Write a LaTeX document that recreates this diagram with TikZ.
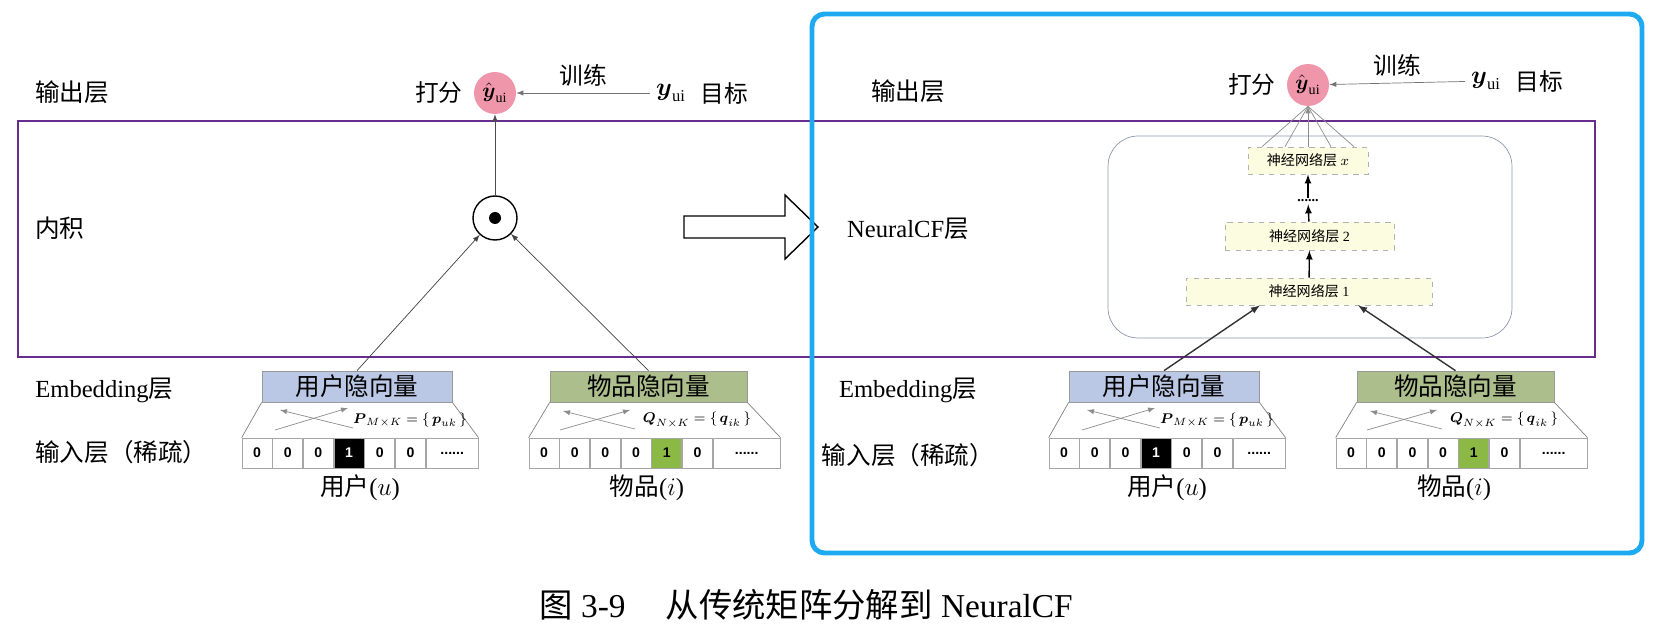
\documentclass[tikz,border=0pt]{standalone}
\usepackage{amsmath}
\usepackage{fontspec}
\setmainfont{Liberation Serif}
\setsansfont{Liberation Sans}
\newfontfamily\cjk{Noto Sans CJK SC}
\usetikzlibrary{positioning}

\definecolor{framepurple}{RGB}{102,45,140}
\definecolor{panelblue}{RGB}{30,170,240}
\definecolor{userblue}{RGB}{186,200,230}
\definecolor{itemgreen}{RGB}{172,190,140}
\definecolor{hotgreen}{RGB}{140,185,70}
\definecolor{scorepink}{RGB}{240,150,170}
\definecolor{layeryellow}{RGB}{252,252,225}
\definecolor{ncfgray}{RGB}{140,150,170}

\begin{document}
\begin{tikzpicture}[x=0.02cm, y=-0.02cm, node distance=0cm]
    \tikzset{
        bit/.style={
            rectangle,
            draw=black!35,
            inner sep=0pt,
            minimum width=0.6cm,
            minimum height=0.6cm,
            text centered,
            font=\fontsize{8}{9}\selectfont\sffamily\bfseries
        },
        vecbox/.style={
            rectangle,
            draw=black!40,
            inner sep=0pt,
            minimum height=0.62cm,
            font=\fontsize{14}{16}\selectfont\cjk
        },
        layer/.style={
            rectangle,
            draw=black!30,
            dashed,
            fill=layeryellow,
            inner sep=0pt,
            minimum height=0.54cm,
            font=\fontsize{8}{9}\selectfont
        },
        rowlabel/.style={font=\fontsize{14}{16}\selectfont, inner sep=0pt},
        small/.style={font=\fontsize{13.5}{15}\selectfont},
        score/.style={circle, fill=scorepink, inner sep=0pt, minimum size=0.84cm,
            font=\fontsize{12}{13}\selectfont}
    }

    \useasboundingbox (0,0) rectangle (1666,638);

    % layer labels
    \node[rowlabel, anchor=west] (outL) at (35,92) {{\cjk 输出层}};
    \node[rowlabel, anchor=west] (dotprodL) at (35,228) {{\cjk 内积}};
    \node[rowlabel, anchor=west] (embL) at (35,390) {Embedding{\cjk 层}};
    \node[rowlabel, anchor=west] (inL) at (35,452) {{\cjk 输入层（稀疏）}};

    \node[rowlabel] (outR) at (908,91) {{\cjk 输出层}};
    \node[rowlabel] (ncfR) at (908,229) {NeuralCF{\cjk 层}};
    \node[rowlabel] (embR) at (908,390) {Embedding{\cjk 层}};
    \node[rowlabel] (inR) at (908,455) {{\cjk 输入层（稀疏）}};

    \draw[framepurple, line width=1.6pt] (18,121) rectangle (1595,357);

    % left: matrix factorisation
    \node[score] (yhatL) at (495,93) {$\hat{\boldsymbol{y}}_{\mathrm{ui}}$};
    \node[small, left=0.1cm of yhatL] (scoreL) {{\cjk 打分}};
    \node[small] (yL) at (671,93) {$\boldsymbol{y}_{\mathrm{ui}}$};
    \node[small, right=0.05cm of yL] (goalL) {{\cjk 目标}};
    \draw[-latex, black!55] (yL) -- (yhatL) node[midway, above, black, small] (trainL) {{\cjk 训练}};

    \node[circle, draw=black, thick, minimum size=0.88cm, inner sep=0pt] (dotL) at (495,218) {};
    \fill (dotL) circle (6);
    \draw[-latex, black!70] (dotL) -- (yhatL);

    \node[vecbox, fill=userblue, minimum width=3.8cm] (userL) at (357,386.5) {用户隐向量};
    \node[vecbox, fill=itemgreen, minimum width=3.94cm] (itemL) at (648.5,386.5) {物品隐向量};
    \draw[-latex, black!75] (userL.north) -- (dotL);
    \draw[-latex, black!75] (itemL.north) -- (dotL);

    \node[bit] (lu1) at (257,453) {0};
    \node[bit, right=of lu1] (lu2) {0};
    \node[bit, right=of lu2] (lu3) {0};
    \node[bit, fill=black, text=white, right=of lu3] (lu4) {1};
    \node[bit, right=of lu4] (lu5) {0};
    \node[bit, right=of lu5] (lu6) {0};
    \node[bit, minimum width=1.04cm, right=of lu6] (ludots) {......};

    \node[bit] (li1) at (544,453) {0};
    \node[bit, right=of li1] (li2) {0};
    \node[bit, right=of li2] (li3) {0};
    \node[bit, right=of li3] (li4) {0};
    \node[bit, fill=hotgreen, right=of li4] (li5) {1};
    \node[bit, right=of li5] (li6) {0};
    \node[bit, minimum width=1.34cm, right=of li6] (lidots) {......};

    \draw[black!50] (userL.south west) -- (lu1.north west);
    \draw[black!50] (userL.south east) -- (ludots.north east);
    \draw[black!50] (itemL.south west) -- (li1.north west);
    \draw[black!50] (itemL.south east) -- (lidots.north east);

    \draw[-latex, black!45] (275,430) -- (348,408);
    \draw[-latex, black!45] (353,428) -- (280,410);
    \draw[-latex, black!45] (560,430) -- (630,410);
    \draw[-latex, black!45] (635,429) -- (563,411);

    \node[font=\fontsize{8}{9}\selectfont] (pL) at (410,420) {$\boldsymbol{P}_{M\times K}=\{\,\boldsymbol{p}_{uk}\,\}$};
    \node[font=\fontsize{8}{9}\selectfont] (qL) at (697,420) {$\boldsymbol{Q}_{N\times K}=\{\,\boldsymbol{q}_{ik}\,\}$};
    \node[rowlabel] (unameL) at (360,488) {{\cjk 用户}($u$)};
    \node[rowlabel] (inameL) at (647,488) {{\cjk 物品}($i$)};

    % hollow arrow between the two models
    \draw[thick] (684,216) -- (785,216) -- (785,195) -- (818,227) -- (785,259)
        -- (785,238) -- (684,238) -- cycle;

    % right: NeuralCF
    \node[score] (yhatR) at (1308,85) {$\hat{\boldsymbol{y}}_{\mathrm{ui}}$};
    \node[small, left=0.1cm of yhatR] (scoreR) {{\cjk 打分}};
    \node[small] (yR) at (1486,81) {$\boldsymbol{y}_{\mathrm{ui}}$};
    \node[small, right=0.05cm of yR] (goalR) {{\cjk 目标}};
    \draw[-latex, black!55] (yR) -- (yhatR) node[midway, above, black, small] (trainR) {{\cjk 训练}};

    \node[draw=ncfgray, rounded corners=0.6cm, minimum width=8.08cm, minimum height=4.04cm] (ncfbox) at (1310,237) {};

    \node[layer, minimum width=2.4cm] (layerX) at (1308,160.5) {{\cjk 神经网络层} $x$};
    \node[font=\fontsize{8}{9}\selectfont\bfseries, inner sep=1pt] (layerdots) at (1308,201) {......};
    \node[layer, minimum width=3.38cm, minimum height=0.56cm] (layerB) at (1309.5,236) {{\cjk 神经网络层} 2};
    \node[layer, minimum width=4.92cm] (layerA) at (1309,291.5) {{\cjk 神经网络层} 1};

    \draw[-latex, thick] (layerA) -- (layerB);
    \draw[-latex, thick] (layerB) -- (layerdots);
    \draw[-latex, thick] (layerdots) -- (layerX);

    \draw[black!45] ([xshift=-0.92cm]layerX.north) -- (yhatR.south);
    \draw[black!45] ([xshift=-0.46cm]layerX.north) -- (yhatR.south);
    \draw[-latex, black!45] (layerX.north) -- (yhatR.south);
    \draw[black!45] ([xshift=0.46cm]layerX.north) -- (yhatR.south);
    \draw[black!45] ([xshift=0.92cm]layerX.north) -- (yhatR.south);

    \node[vecbox, fill=userblue, minimum width=3.8cm] (userR) at (1164,386.5) {用户隐向量};
    \node[vecbox, fill=itemgreen, minimum width=3.94cm] (itemR) at (1455.5,386.5) {物品隐向量};
    \draw[-latex, thick, black!80] (userR.north) -- ([xshift=-0.98cm]layerA.south);
    \draw[-latex, thick, black!80] (itemR.north) -- ([xshift=0.98cm]layerA.south);

    \node[bit] (ru1) at (1064,453) {0};
    \node[bit, right=of ru1] (ru2) {0};
    \node[bit, right=of ru2] (ru3) {0};
    \node[bit, fill=black, text=white, right=of ru3] (ru4) {1};
    \node[bit, right=of ru4] (ru5) {0};
    \node[bit, right=of ru5] (ru6) {0};
    \node[bit, minimum width=1.04cm, right=of ru6] (rudots) {......};

    \node[bit] (ri1) at (1351,453) {0};
    \node[bit, right=of ri1] (ri2) {0};
    \node[bit, right=of ri2] (ri3) {0};
    \node[bit, right=of ri3] (ri4) {0};
    \node[bit, fill=hotgreen, right=of ri4] (ri5) {1};
    \node[bit, right=of ri5] (ri6) {0};
    \node[bit, minimum width=1.34cm, right=of ri6] (ridots) {......};

    \draw[black!50] (userR.south west) -- (ru1.north west);
    \draw[black!50] (userR.south east) -- (rudots.north east);
    \draw[black!50] (itemR.south west) -- (ri1.north west);
    \draw[black!50] (itemR.south east) -- (ridots.north east);

    \draw[-latex, black!45] (1082,430) -- (1155,408);
    \draw[-latex, black!45] (1160,428) -- (1087,410);
    \draw[-latex, black!45] (1367,430) -- (1437,410);
    \draw[-latex, black!45] (1442,429) -- (1370,411);

    \node[font=\fontsize{8}{9}\selectfont] (pR) at (1217,420) {$\boldsymbol{P}_{M\times K}=\{\,\boldsymbol{p}_{uk}\,\}$};
    \node[font=\fontsize{8}{9}\selectfont] (qR) at (1504,420) {$\boldsymbol{Q}_{N\times K}=\{\,\boldsymbol{q}_{ik}\,\}$};
    \node[rowlabel] (unameR) at (1167,488) {{\cjk 用户}($u$)};
    \node[rowlabel] (inameR) at (1454,488) {{\cjk 物品}($i$)};

    \draw[panelblue, line width=2.8pt, rounded corners=0.25cm] (812,14) rectangle (1642,553);

    \node[font=\fontsize{19}{22}\selectfont] (caption) at (806,605)
        {{\cjk 图} 3-9\hspace{1.2em}{\cjk 从传统矩阵分解到} NeuralCF};

\end{tikzpicture}
\end{document}
